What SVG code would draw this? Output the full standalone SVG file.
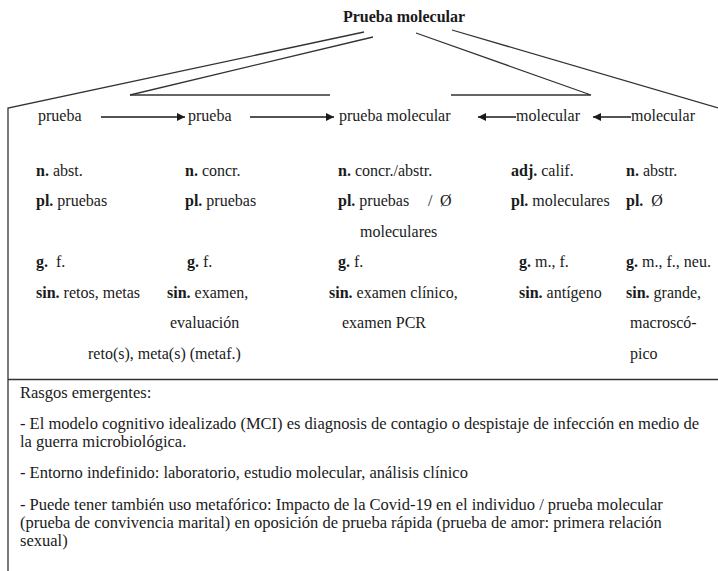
<svg xmlns="http://www.w3.org/2000/svg" width="718" height="571" viewBox="0 0 718 571">
<style>
text{font-family:"Liberation Serif","Noto Serif","DejaVu Serif",Tinos,"Times New Roman",Times,serif;font-size:16px;fill:#1a1a1a}
.b{font-weight:bold}
.lo{font-size:16.5px}
.ln{stroke:#333;stroke-width:1.3;fill:none}
.ar{stroke:#1a1a1a;stroke-width:1.3;fill:none}
</style>
<defs>
<marker id="ah" viewBox="0 0 10 10" refX="10" refY="5" markerWidth="8" markerHeight="8" markerUnits="userSpaceOnUse" orient="auto"><path d="M0,0 L10,5 L0,10 z" fill="#1a1a1a"/></marker>
</defs>
<rect width="718" height="571" fill="#fff"/>
<g id="title"><text class="b" x="404" y="22" text-anchor="middle">Prueba molecular</text></g>
<g id="connectors">
<path class="ln" d="M8,571 L8,108 L364,32"/>
<path class="ln" d="M130,95 L373,37"/>
<path class="ln" d="M130,95 L330,95"/>
<path class="ln" d="M416,33 L591,95 L451,95"/>
<path class="ln" d="M452,30 L718,108"/>
<path class="ln" d="M8,379.5 L718,379.5"/>
<path class="ar" d="M101,117 L185,117" marker-end="url(#ah)"/>
<path class="ar" d="M250,117 L334,117" marker-end="url(#ah)"/>
<path class="ar" d="M516,117 L478,117" marker-end="url(#ah)"/>
<path class="ar" d="M631,117 L593,117" marker-end="url(#ah)"/>
</g>
<g id="n1"><text x="38" y="121">prueba</text>
<text x="36" y="176"><tspan class="b">n.</tspan> abst.</text>
<text x="36" y="206"><tspan class="b">pl.</tspan> pruebas</text>
<text x="36" y="267"><tspan class="b">g.</tspan>&#160; f.</text>
<text x="36" y="298"><tspan class="b">sin.</tspan> retos, metas</text>
</g>
<g id="n2"><text x="188" y="121">prueba</text>
<text x="185" y="176"><tspan class="b">n.</tspan> concr.</text>
<text x="185" y="206"><tspan class="b">pl.</tspan> pruebas</text>
<text x="187" y="267"><tspan class="b">g.</tspan> f.</text>
<text x="167" y="298"><tspan class="b">sin.</tspan> examen,</text>
<text x="170" y="328">evaluación</text>
<text x="88" y="359">reto(s), meta(s) (metaf.)</text>
</g>
<g id="n3"><text x="339" y="121">prueba molecular</text>
<text x="338" y="176"><tspan class="b">n.</tspan> concr./abstr.</text>
<text x="338" y="206"><tspan class="b">pl.</tspan> pruebas</text>
<text x="428" y="206">/</text>
<text x="440" y="206">Ø</text>
<text x="360" y="237">moleculares</text>
<text x="338" y="267"><tspan class="b">g.</tspan> f.</text>
<text x="329" y="298"><tspan class="b">sin.</tspan> examen clínico,</text>
<text x="342" y="328">examen PCR</text>
</g>
<g id="n4"><text x="516" y="121">molecular</text>
<text x="511" y="176"><tspan class="b">adj.</tspan> calif.</text>
<text x="511" y="206"><tspan class="b">pl.</tspan> moleculares</text>
<text x="519" y="267"><tspan class="b">g.</tspan> m., f.</text>
<text x="519" y="298"><tspan class="b">sin.</tspan> antígeno</text>
</g>
<g id="n5"><text x="631" y="121">molecular</text>
<text x="626" y="176"><tspan class="b">n.</tspan> abstr.</text>
<text x="626" y="206"><tspan class="b">pl.</tspan>&#160; Ø</text>
<text x="626" y="267"><tspan class="b">g.</tspan> m., f., neu.</text>
<text x="626" y="298"><tspan class="b">sin.</tspan> grande,</text>
<text x="630" y="328">macroscó-</text>
<text x="630" y="359">pico</text>
</g>
<g id="rasgos">
<text class="lo" x="20" y="398">Rasgos emergentes:</text>
<text class="lo" x="20" y="429">- El modelo cognitivo idealizado (MCI) es diagnosis de contagio o despistaje de infección en medio de</text>
<text class="lo" x="20" y="447">la guerra microbiológica.</text>
<text class="lo" x="20" y="478">- Entorno indefinido: laboratorio, estudio molecular, análisis clínico</text>
<text class="lo" x="20" y="510">- Puede tener también uso metafórico: Impacto de la Covid-19 en el individuo / prueba molecular</text>
<text class="lo" x="20" y="528">(prueba de convivencia marital) en oposición de prueba rápida (prueba de amor: primera relación</text>
<text class="lo" x="20" y="546">sexual)</text>
</g>
</svg>
